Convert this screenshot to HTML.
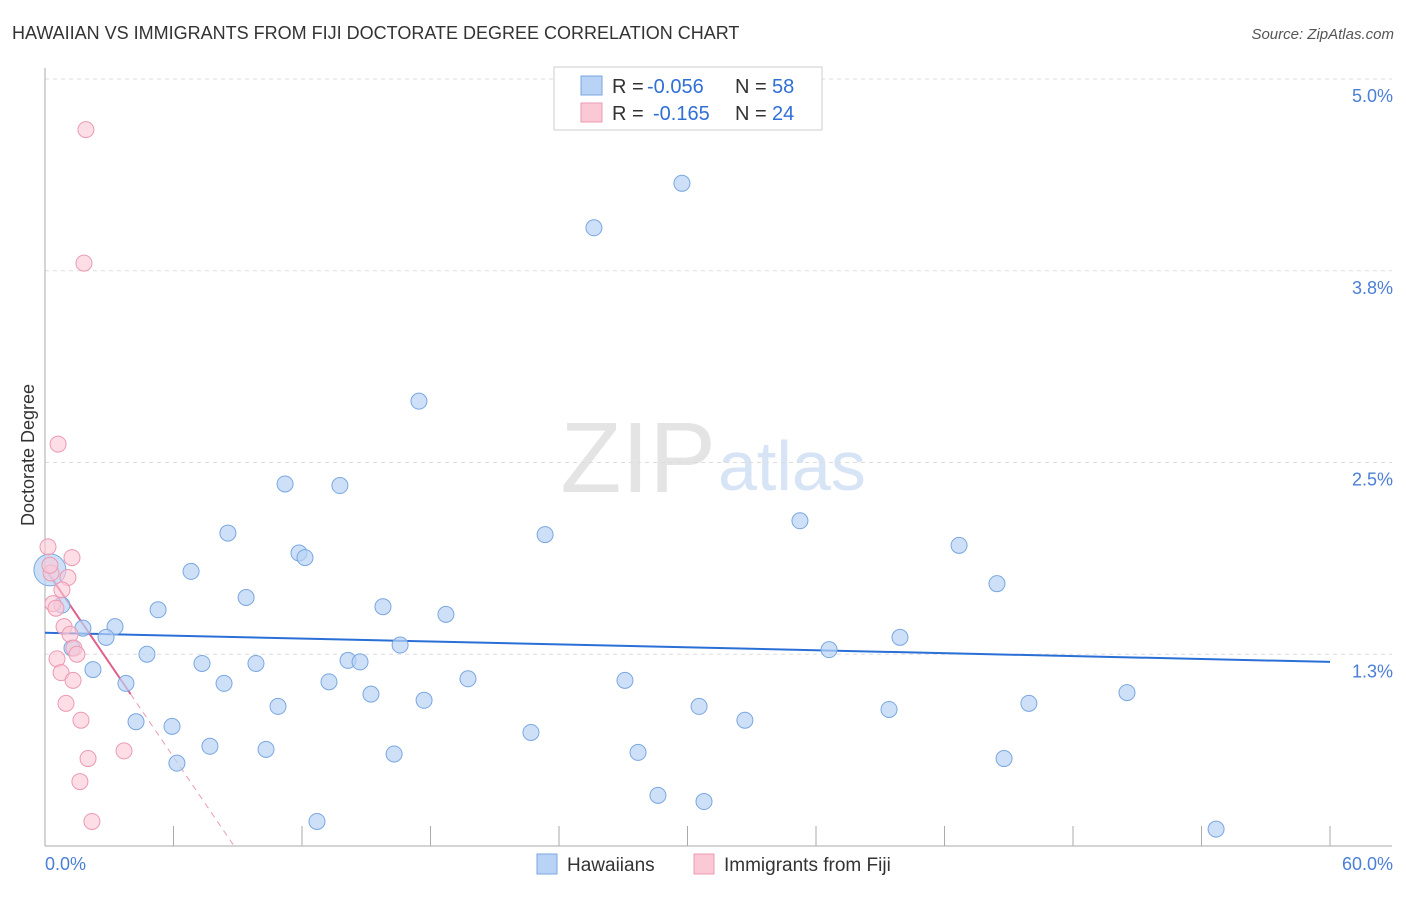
<!DOCTYPE html>
<html><head><meta charset="utf-8"><style>
body{margin:0;background:#fff;font-family:"Liberation Sans",sans-serif;}
svg text{font-family:"Liberation Sans",sans-serif;}
</style></head><body>
<svg id="chart" width="1406" height="892" xmlns="http://www.w3.org/2000/svg">
<text x="12" y="39" font-size="18" fill="#333">HAWAIIAN VS IMMIGRANTS FROM FIJI DOCTORATE DEGREE CORRELATION CHART</text>
<text x="1394" y="39" font-size="15" fill="#555" text-anchor="end" font-style="italic">Source: ZipAtlas.com</text>
<text x="716" y="492" font-size="100" fill="#e4e4e4" text-anchor="end" font-family="Liberation Serif">ZIP</text>
<text x="718" y="490" font-size="70" fill="#d6e4f5">atlas</text>
<text transform="translate(34,455) rotate(-90)" font-size="18" fill="#333" text-anchor="middle">Doctorate Degree</text>
<g id="grid"></g><g id="axes"></g><g id="trends"></g><g id="points"></g>
<g>
<rect x="554" y="67" width="268" height="63" fill="#fff" stroke="#ccc"/>
<rect x="581" y="76" width="21" height="19" fill="#b8d3f5" stroke="#7aa7e0"/>
<rect x="581" y="103" width="21" height="19" fill="#fbc8d6" stroke="#eb9ab3"/>
<text y="93" font-size="20" fill="#333"><tspan x="612">R =</tspan><tspan x="647" fill="#2f6fd6">-0.056</tspan><tspan x="735">N =</tspan><tspan x="772" fill="#2f6fd6">58</tspan></text>
<text y="120" font-size="20" fill="#333"><tspan x="612">R =</tspan><tspan x="653" fill="#2f6fd6">-0.165</tspan><tspan x="735">N =</tspan><tspan x="772" fill="#2f6fd6">24</tspan></text>
</g>
<g>
<rect x="537" y="854" width="20" height="20" fill="#b8d3f5" stroke="#7aa7e0"/>
<text x="567" y="871" font-size="19" fill="#333">Hawaiians</text>
<rect x="694" y="854" width="20" height="20" fill="#fbc8d6" stroke="#eb9ab3"/>
<text x="724" y="871" font-size="19" fill="#333">Immigrants from Fiji</text>
</g>
</svg>
<script>
const blueX=[29.74,25.63,17.46,11.21,13.77,23.35,8.54,35.25,42.68,11.86,12.14,6.82,44.45,9.39,5.28,15.78,18.72,0.79,1.77,3.27,2.85,16.58,39.92,36.61,1.26,4.76,14.15,14.71,7.33,9.85,2.24,8.36,3.78,13.26,19.75,27.08,15.22,17.70,50.52,10.88,30.54,39.41,45.94,4.25,5.93,32.68,22.69,7.70,10.32,16.30,27.69,44.78,6.16,28.62,30.77,12.70,54.68,0.23];
const blueY=[4.32,4.03,2.90,2.36,2.35,2.03,2.04,2.12,1.96,1.91,1.88,1.79,1.71,1.62,1.54,1.56,1.51,1.57,1.42,1.43,1.36,1.31,1.36,1.28,1.29,1.25,1.21,1.20,1.19,1.19,1.15,1.06,1.06,1.07,1.09,1.08,0.99,0.95,1.00,0.91,0.91,0.89,0.93,0.81,0.78,0.82,0.74,0.65,0.63,0.60,0.61,0.57,0.54,0.33,0.29,0.16,0.11,1.80];
const pinkX=[1.91,1.82,0.61,0.14,1.26,0.28,1.07,0.79,0.37,0.51,0.89,1.17,1.35,1.49,0.56,0.75,1.31,0.98,1.68,3.69,2.01,1.63,2.19,0.23];
const pinkY=[4.67,3.80,2.62,1.95,1.88,1.78,1.75,1.67,1.58,1.55,1.43,1.38,1.29,1.25,1.22,1.13,1.08,0.93,0.82,0.62,0.57,0.42,0.16,1.83];
const yTicks=[1.25,2.5,3.75,5.0];
const yTickLabels=["1.3%","2.5%","3.8%","5.0%"];
const xTickVals=[0,6,12,18,24,30,36,42,48,54,60];
const blueTrend=[1.39,1.20];
const pinkTrend=[1.81,0.99];
const pinkTrendEnd=4;
const NS="http://www.w3.org/2000/svg";
const X=v=>45+v*21.417, Y=v=>846-v*153.4;
function mk(tag,attrs,parent){const e=document.createElementNS(NS,tag);for(const k in attrs)e.setAttribute(k,attrs[k]);document.getElementById(parent).appendChild(e);return e;}
yTicks.forEach((t,i)=>{
 const l=mk('line',{x1:45,x2:1392,y1:Y(t),y2:Y(t),stroke:'#ddd','stroke-dasharray':'4,4'},'grid');
 
 
 const tx=mk('text',{x:1393,y:Y(t)+23,'font-size':18,fill:'#4a7fd6','text-anchor':'end'},'grid');
 tx.textContent=yTickLabels[i];
 
 
});
const topGrid=mk('line',{x1:45,x2:1392,y1:79,y2:79,stroke:'#ddd','stroke-dasharray':'4,4'},'grid');


const ax=mk('line',{x1:45,x2:1392,y1:846,y2:846,stroke:'#aaa'},'axes');


const ay=mk('line',{x1:45,x2:45,y1:68,y2:846,stroke:'#aaa'},'axes');


xTickVals.forEach(v=>{
 const t=mk('line',{x1:X(v),x2:X(v),y1:826,y2:846,stroke:'#aaa'},'axes');
 
 
});
const xl0=mk('text',{x:45,y:870,'font-size':18,fill:'#4a7fd6'},'axes');xl0.textContent='0.0%';


const xl1=mk('text',{x:1393,y:870,'font-size':18,fill:'#4a7fd6','text-anchor':'end'},'axes');xl1.textContent='60.0%';


blueX.forEach((v,i)=>{
 const big=i===blueX.length-1;
 const c=mk('circle',{cx:X(v),cy:Y(blueY[i]),r:big?16:8,fill:'#b8d3f5','fill-opacity':0.7,stroke:'#7aa7e0','stroke-width':1},'points');
 
 
});
pinkX.forEach((v,i)=>{
 const c=mk('circle',{cx:X(v),cy:Y(pinkY[i]),r:8,fill:'#fbc8d6','fill-opacity':0.6,stroke:'#eb9ab3','stroke-width':1},'points');
 
 
});
const bt=mk('line',{x1:X(0),y1:Y(blueTrend[0]),x2:X(60),y2:Y(blueTrend[1]),stroke:'#2a6fd6','stroke-width':2},'trends');


const slope=(pinkTrend[1]-pinkTrend[0])/pinkTrendEnd;
const zeroX=-pinkTrend[0]/slope;
const pd=mk('line',{x1:X(pinkTrendEnd),y1:Y(pinkTrend[1]),x2:X(zeroX),y2:Y(0),stroke:'#eb9ab3','stroke-width':1,'stroke-dasharray':'6,5'},'trends');


const pt=mk('line',{x1:X(0),y1:Y(pinkTrend[0]),x2:X(pinkTrendEnd),y2:Y(pinkTrend[1]),stroke:'#e0608a','stroke-width':2},'trends');


</script>
</body></html>
